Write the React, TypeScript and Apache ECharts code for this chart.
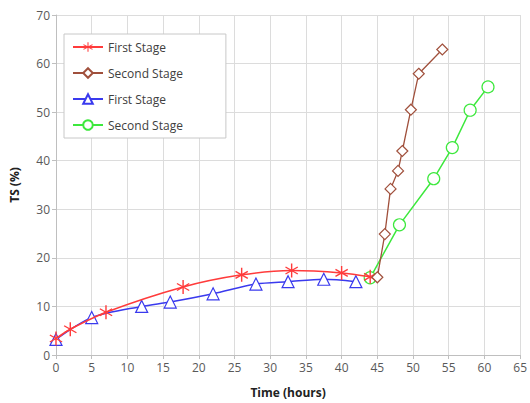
import React, { useEffect, useRef } from "react";
import * as echarts from "echarts";

const firstStageA: [number, number][] = [
  [0, 3.4], [2, 5.3], [7, 8.8], [17.8, 14.0], [26, 16.5], [33, 17.4], [40, 16.9], [44, 16.1],
];
const secondStageA: [number, number][] = [
  [45, 16.0], [46.05, 24.9], [46.85, 34.2], [47.9, 37.9], [48.5, 42.0], [49.7, 50.5], [50.8, 57.9], [54.1, 62.9],
];
const firstStageB: [number, number][] = [
  [0, 3.2], [5, 7.7], [12, 10.0], [16, 10.9], [22, 12.6], [28, 14.6], [32.5, 15.1], [37.5, 15.6], [42, 15.1],
];
const secondStageB: [number, number][] = [
  [44, 15.9], [48.1, 26.8], [52.9, 36.3], [55.5, 42.7], [58.0, 50.4], [60.5, 55.2],
];
const seriesNames = ["First Stage", "Second Stage", "First Stage ", "Second Stage "];

const asterisk =
  "path://M9,0L11,0L11,20L9,20Z M1.84,4.13L19.16,14.13L18.16,15.87L0.84,5.87Z M0.84,14.13L18.16,4.13L19.16,5.87L1.84,15.87Z";

export default function App() {
  const ref = useRef<HTMLDivElement>(null);
  useEffect(() => {
    document.body.style.margin = "0";
    const chart = echarts.init(ref.current!, undefined, { renderer: "svg" });
    const font = "Open Sans";
    chart.setOption({
      animation: false,
      textStyle: { fontFamily: font },
      grid: { left: 56, right: 7, top: 15, bottom: 47 },
      legend: {
        orient: "vertical",
        left: 64,
        top: 34,
        padding: [7, 43, 7, 8],
        itemGap: 14,
        itemWidth: 30,
        itemHeight: 12,
        borderColor: "#c8c8c8",
        borderWidth: 1,
        backgroundColor: "#fff",
        textStyle: { color: "#404040", fontSize: 12, fontFamily: font },
        formatter: (n: string) => n.trim(),
        data: seriesNames,
      },
      xAxis: {
        type: "value",
        min: 0,
        max: 65,
        interval: 5,
        name: "Time (hours)",
        nameLocation: "middle",
        nameGap: 31,
        nameTextStyle: { fontWeight: "bold", fontSize: 12, color: "#222", fontFamily: font },
        axisLine: { show: true, lineStyle: { color: "#bfbfbf" } },
        axisTick: { show: true, length: 4, lineStyle: { color: "#bfbfbf" } },
        axisLabel: { color: "#595959", fontSize: 12, margin: 6 },
        splitLine: { show: true, lineStyle: { color: "#dcdcdc" } },
      },
      yAxis: {
        type: "value",
        min: 0,
        max: 70,
        interval: 10,
        name: "TS (%)",
        nameLocation: "middle",
        nameGap: 36,
        nameTextStyle: { fontWeight: "bold", fontSize: 12, color: "#222", fontFamily: font },
        axisLine: { show: true, lineStyle: { color: "#bfbfbf" } },
        axisTick: { show: true, length: 4, lineStyle: { color: "#bfbfbf" } },
        axisLabel: { color: "#595959", fontSize: 12, margin: 6 },
        splitLine: { show: true, lineStyle: { color: "#dcdcdc" } },
      },
      series: [
        {
          name: seriesNames[0],
          type: "line",
          data: firstStageA,
          smooth: 0.3,
          symbol: asterisk,
          symbolSize: [13, 14],
          lineStyle: { color: "#ff3b3b", width: 1.5 },
          itemStyle: { color: "#ff3b3b" },
          z: 3,
        },
        {
          name: seriesNames[1],
          type: "line",
          data: secondStageA,
          symbol: "diamond",
          symbolSize: 11,
          showAllSymbol: true,
          lineStyle: { color: "#a0503c", width: 1.3 },
          itemStyle: { color: "#fff", borderColor: "#a0503c", borderWidth: 1.2 },
          z: 4,
        },
        {
          name: seriesNames[2],
          type: "line",
          data: firstStageB,
          smooth: 0.3,
          symbol: "triangle",
          symbolSize: 12,
          lineStyle: { color: "#3a3aee", width: 1.5 },
          itemStyle: { color: "#fff", borderColor: "#3a3aee", borderWidth: 1.2 },
          z: 2,
        },
        {
          name: seriesNames[3],
          type: "line",
          data: secondStageB,
          symbol: "circle",
          symbolSize: 12,
          lineStyle: { color: "#3de83d", width: 1.5 },
          itemStyle: { color: "#fff", borderColor: "#3de83d", borderWidth: 1.2 },
          z: 2,
        },
      ],
    });
    return () => chart.dispose();
  }, []);
  return <div ref={ref} style={{ width: 530, height: 403 }} />;
}
